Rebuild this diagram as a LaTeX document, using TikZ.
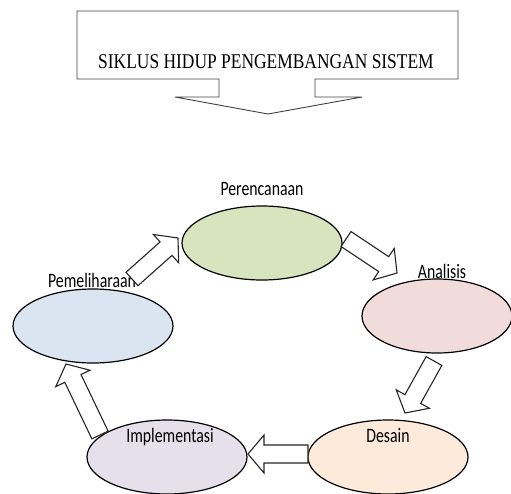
\documentclass[tikz,border=0pt]{standalone}
\usepackage{fontspec}
\setmainfont{Liberation Serif}
\setsansfont{Carlito}
\usepackage{graphicx}
\usetikzlibrary{shapes.geometric,calc}
\definecolor{perfill}{RGB}{215,228,189}
\definecolor{anafill}{RGB}{242,220,219}
\definecolor{desfill}{RGB}{253,234,218}
\definecolor{impfill}{RGB}{229,224,236}
\definecolor{pemfill}{RGB}{219,229,241}
\newcommand{\hsquash}[2][0.77]{\scalebox{#1}[1]{#2}}

\begin{document}
\begin{tikzpicture}[x=1pt,y=-1pt,
 phase/.style={ellipse,draw,line width=1.2pt,minimum width=160pt,minimum height=74pt,inner sep=0pt},
 lbl/.style={font=\sffamily\fontsize{20.5}{24}\selectfont,inner sep=0pt,anchor=base},
 blockarrow/.style={draw=black!85,fill=white,line width=1.1pt,
  to path={let \p1=(\tikztostart),\p2=(\tikztotarget),
   \n1={atan2(\y2-\y1,\x2-\x1)},\n2={veclen(\x2-\x1,\y2-\y1)} in
   [shift={(\p1)},rotate=\n1]
   (0pt,-9pt) -- ({\n2-16pt},-9pt) -- ({\n2-16pt},-19pt) -- ({\n2},0pt)
   -- ({\n2-16pt},19pt) -- ({\n2-16pt},9pt) -- (0pt,9pt) -- cycle}}]
\useasboundingbox (0,0) rectangle (511,493);
% title callout
\draw[black!75,line width=0.9pt] (77,11) -- (458,11) -- (458,79) -- (315,79) -- (315,97)
 -- (362,97) -- (268,114) -- (175,97) -- (219,97) -- (219,79) -- (77,79) -- cycle;
\node[font=\fontsize{21}{24}\selectfont,inner sep=0pt,anchor=base] (title) at (266,68)
 {\hsquash[0.83]{SIKLUS HIDUP PENGEMBANGAN SISTEM}};
% phases
\node[phase,fill=perfill] (per) at (262,243) {};
\node[phase,fill=anafill,minimum width=150pt] (ana) at (437,316) {};
\node[phase,fill=desfill] (des) at (388,457) {};
\node[phase,fill=impfill] (imp) at (167,457) {};
\node[phase,fill=pemfill] (pem) at (93,326) {};
\node[lbl] (perlbl) at (262,195) {\hsquash{Perencanaan}};
\node[lbl] (analbl) at (442,278) {\hsquash{Analisis}};
\node[lbl] (deslbl) at (388,442) {\hsquash{Desain}};
\node[lbl] (implbl) at (170,442) {\hsquash{Implementasi}};
\node[lbl] (pemlbl) at (92,287) {\hsquash{Pemeliharaan}};
% block arrows
\coordinate (t1) at (132,279); \coordinate (h1) at (178,238);
\coordinate (t2) at (346,239); \coordinate (h2) at (397,273);
\coordinate (t3) at (434,361); \coordinate (h3) at (405,413);
\coordinate (t4) at (308,454); \coordinate (h4) at (248,454);
\coordinate (t5) at (100,435); \coordinate (h5) at (66,364);
\foreach \a/\b in {t1/h1,t2/h2,t3/h3,t4/h4,t5/h5}
 \draw[blockarrow] (\a) to (\b);
\end{tikzpicture}
\end{document}
